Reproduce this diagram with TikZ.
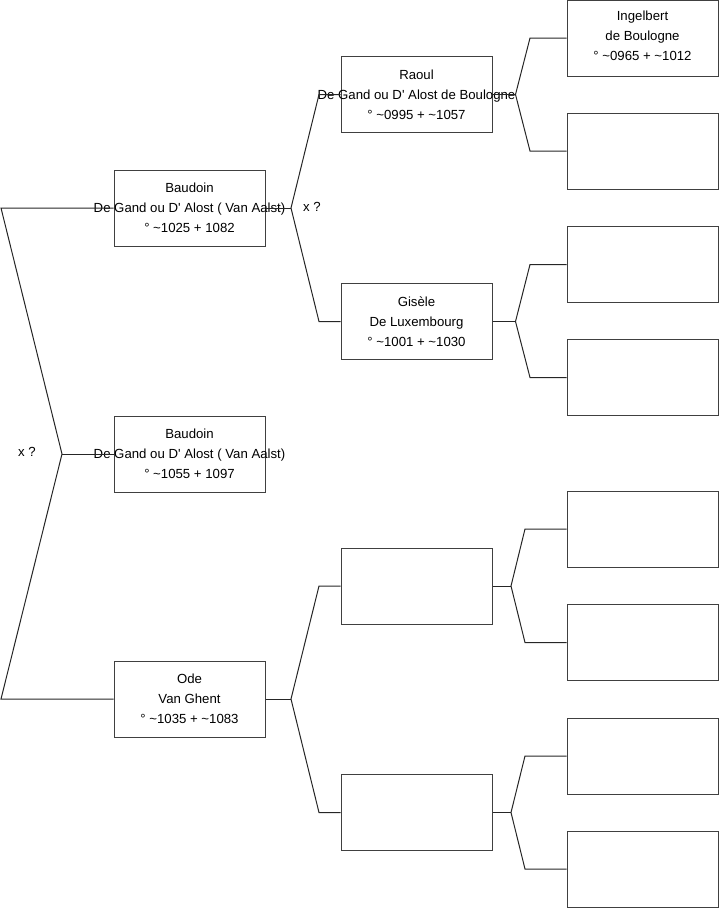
\documentclass[tikz,border=0pt]{standalone}
\usepackage{fontspec}
\setmainfont{Liberation Sans}
\usetikzlibrary{positioning}

\begin{document}
\begin{tikzpicture}[x=1pt,y=-1pt,line width=1pt,font=\fontsize{13.2}{20}\selectfont]
\tikzstyle{p}=[draw=black!75,minimum width=151pt,minimum height=76pt,inner sep=0pt]
\tikzstyle{t}=[align=center,inner sep=0pt]
\tikzstyle{l}=[draw=black!85]
\useasboundingbox (0,0) rectangle (719,908);
% generation 1
\node[p] (b1) at (189.5,208) {}; \node[t] (b1t) at (b1) {Baudoin\\De Gand ou D\textquotesingle\ Alost ( Van Aalst)\\° \textasciitilde1025 + 1082};
\node[p] (b2) at (189.5,454) {}; \node[t] (b2t) at (b2) {Baudoin\\De Gand ou D\textquotesingle\ Alost ( Van Aalst)\\° \textasciitilde1055 + 1097};
\node[p] (ode) at (189.5,699) {}; \node[t] (odet) at (ode) {Ode\\Van Ghent\\° \textasciitilde1035 + \textasciitilde1083};
% generation 2
\node[p] (raoul) at (416.5,94.5) {}; \node[t] (raoult) at (raoul) {Raoul\\De Gand ou D\textquotesingle\ Alost de Boulogne\\° \textasciitilde0995 + \textasciitilde1057};
\node[p] (gisele) at (416.5,321.5) {}; \node[t] (giselet) at (gisele) {Gisèle\\De Luxembourg\\° \textasciitilde1001 + \textasciitilde1030};
\node[p] (m3) at (416.5,586) {}; \node[p] (m4) at (416.5,812.5) {};
% generation 3
\node[p] (a1) at (642.5,38) {}; \node[t] (a1t) at (642.5,36) {Ingelbert\\de Boulogne\\° \textasciitilde0965 + \textasciitilde1012};
\node[p] (a2) at (642.5,151) {}; \node[p] (a3) at (642.5,264.5) {}; \node[p] (a4) at (642.5,377.5) {};
\node[p] (a5) at (642.5,529) {}; \node[p] (a6) at (642.5,642.5) {}; \node[p] (a7) at (642.5,756) {}; \node[p] (a8) at (642.5,869) {};
% forks
\coordinate (f0) at (62,454); \coordinate (f0a) at (1,208); \coordinate (f0b) at (1,699);
\draw[l] (b1.west) -- (f0a) -- (f0) -- (f0b) -- (ode.west); \draw[l] (f0) -- (b2.west);
\node (x0) at (27,452) {x ?};
\coordinate (f1) at (291,208); \coordinate (f1a) at (319,94.5); \coordinate (f1b) at (319,321.5);
\draw[l] (raoul.west) -- (f1a) -- (f1) -- (f1b) -- (gisele.west); \draw[l] (b1.east) -- (f1);
\node (x1) at (312,207) {x ?};
\coordinate (f2) at (291,699); \coordinate (f2a) at (319,586); \coordinate (f2b) at (319,812.5);
\draw[l] (m3.west) -- (f2a) -- (f2) -- (f2b) -- (m4.west); \draw[l] (ode.east) -- (f2);
\coordinate (f3) at (515.5,94.5); \coordinate (f3a) at (530,38); \coordinate (f3b) at (530,151);
\draw[l] (a1.west) -- (f3a) -- (f3) -- (f3b) -- (a2.west); \draw[l] (raoul.east) -- (f3);
\coordinate (f4) at (515.5,321.5); \coordinate (f4a) at (530,264.5); \coordinate (f4b) at (530,377.5);
\draw[l] (a3.west) -- (f4a) -- (f4) -- (f4b) -- (a4.west); \draw[l] (gisele.east) -- (f4);
\coordinate (f5) at (511,586); \coordinate (f5a) at (525,529); \coordinate (f5b) at (525,642.5);
\draw[l] (a5.west) -- (f5a) -- (f5) -- (f5b) -- (a6.west); \draw[l] (m3.east) -- (f5);
\coordinate (f6) at (511,812.5); \coordinate (f6a) at (525,756); \coordinate (f6b) at (525,869);
\draw[l] (a7.west) -- (f6a) -- (f6) -- (f6b) -- (a8.west); \draw[l] (m4.east) -- (f6);
\end{tikzpicture}
\end{document}
